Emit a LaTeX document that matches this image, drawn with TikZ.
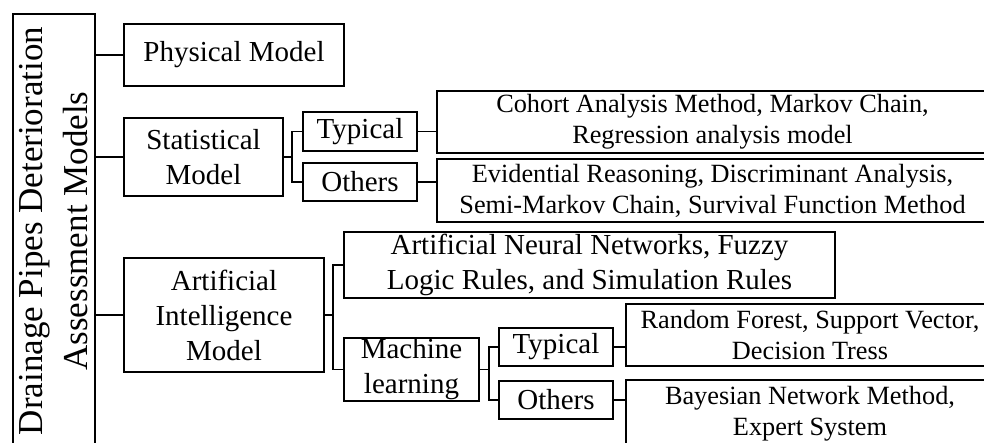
\documentclass[tikz,border=0pt]{standalone}
\usepackage{fontspec}
\setmainfont{Liberation Serif}
\begin{document}
\begin{tikzpicture}[
    x=1pt, y=-1pt,
    box/.style={rectangle, draw, line width=1.8pt, inner sep=0pt, align=center, font=\fontsize{29}{35}\selectfont},
    wide/.style={box, font=\fontsize{26.3}{31}\selectfont},
    line/.style={line width=1.8pt}
]
\clip (0,0) rectangle (984,443);

% Root (rotated, so its south side is on the right)
\node[box, rotate=90, minimum width=434pt, minimum height=82pt, font=\fontsize{35}{45}\selectfont] (root) at (54,231) {Drainage Pipes Deterioration\\Assessment Models};

% Model types
\node[box, minimum width=220pt, minimum height=62pt] (phys) at (234,55) {Physical Model};
\node[box, minimum width=159pt, minimum height=78pt] (stat) at (203.5,157) {Statistical\\Model};
\node[box, minimum width=200pt, minimum height=114pt] (ai) at (224,315) {Artificial\\Intelligence\\Model};

% Statistical branch
\node[box, minimum width=114pt, minimum height=39pt] (statTyp) at (360,131.5) {Typical};
\node[box, minimum width=114pt, minimum height=38pt] (statOth) at (360,182) {Others};
\node[wide, minimum width=551pt, minimum height=62pt] (cohort) at (712.5,122) {Cohort Analysis Method, Markov Chain,\\Regression analysis model};
\node[wide, minimum width=551pt, minimum height=63pt] (evid) at (712.5,190.5) {Evidential Reasoning, Discriminant Analysis,\\Semi-Markov Chain, Survival Function Method};

% AI branch
\node[box, minimum width=491pt, minimum height=66pt] (ann) at (589.5,265) {Artificial Neural Networks, Fuzzy\\Logic Rules, and Simulation Rules};
\node[box, minimum width=135pt, minimum height=63pt] (ml) at (411.5,369.5) {Machine\\learning};
\node[box, minimum width=114pt, minimum height=38pt] (mlTyp) at (556,347) {Typical};
\node[box, minimum width=114pt, minimum height=38pt] (mlOth) at (556,400) {Others};
\node[wide, minimum width=368pt, minimum height=62pt] (forest) at (810,335) {Random Forest, Support Vector,\\Decision Tress};
\node[wide, minimum width=368pt, minimum height=68pt] (bayes) at (810,414) {Bayesian Network Method,\\Expert System};

% Connectors
\draw[line] (phys.west -| root.south) -- (phys.west);
\draw[line] (stat.west -| root.south) -- (stat.west);
\draw[line] (ai.west -| root.south) -- (ai.west);

\draw[line] (stat.east) -- ++(8,0) coordinate (statFork);
\draw[line] (statFork) |- (statTyp.west);
\draw[line] (statFork) |- (statOth.west);
\draw[line] (statTyp.east) -- (statTyp.east -| cohort.west);
\draw[line] (statOth.east) -- (statOth.east -| evid.west);

\draw[line] (ai.east) -- ++(8,0) coordinate (aiFork);
\draw[line] (aiFork) |- (ann.west);
\draw[line] (aiFork) |- (ml.west);

\draw[line] (ml.east) -- ++(9,0) coordinate (mlFork);
\draw[line] (mlFork) |- (mlTyp.west);
\draw[line] (mlFork) |- (mlOth.west);
\draw[line] (mlTyp.east) -- (mlTyp.east -| forest.west);
\draw[line] (mlOth.east) -- (mlOth.east -| bayes.west);
\end{tikzpicture}
\end{document}
